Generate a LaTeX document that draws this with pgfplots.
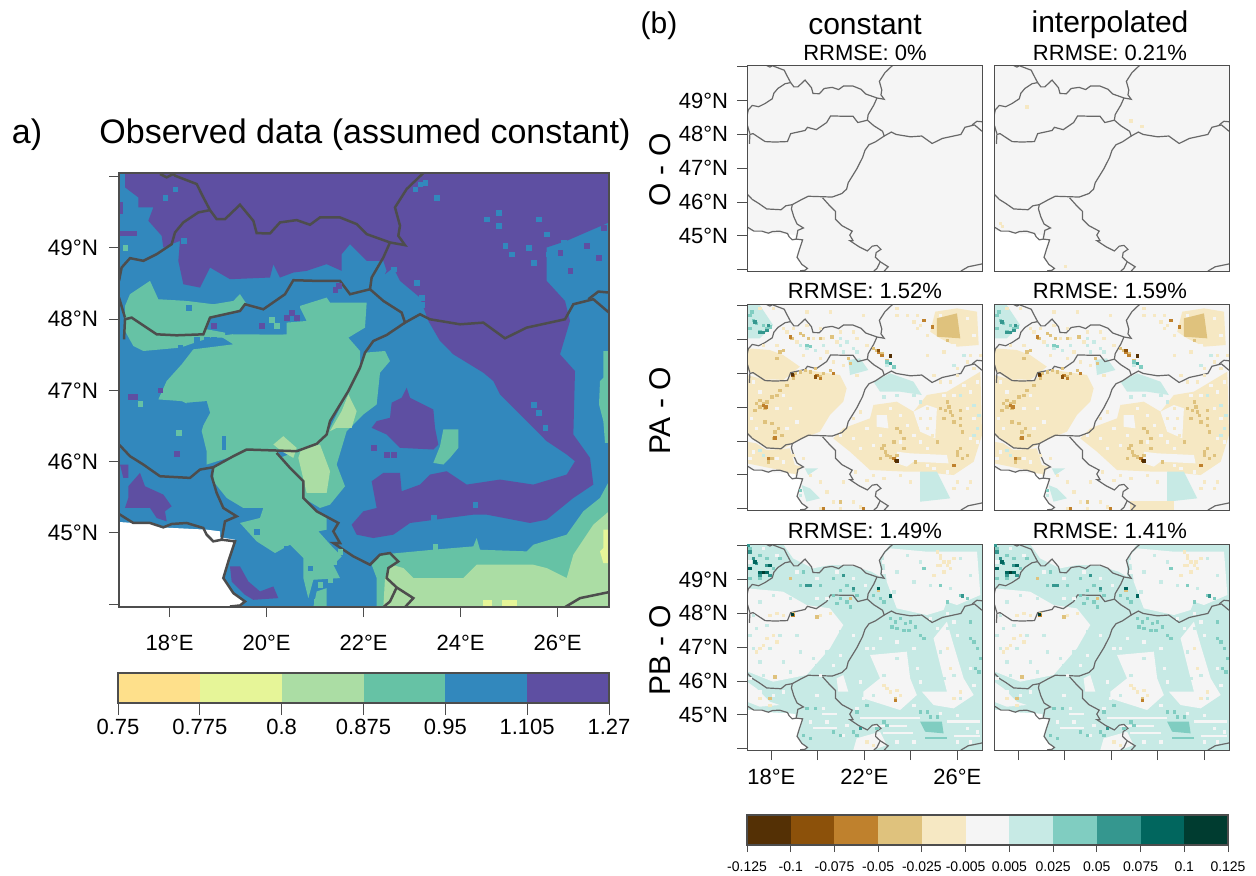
\documentclass[border=0pt]{standalone}
\usepackage{pgfplots}
\pgfplotsset{compat=1.18}
\usepackage{fontspec}
\setmainfont{Liberation Sans}
\definecolor{S1}{HTML}{FEE08B}\definecolor{S2}{HTML}{E6F598}\definecolor{S3}{HTML}{ABDDA4}
\definecolor{S4}{HTML}{66C2A5}\definecolor{S5}{HTML}{3288BD}\definecolor{S6}{HTML}{5E4FA2}
\definecolor{B1}{HTML}{543005}\definecolor{B2}{HTML}{8C510A}\definecolor{B3}{HTML}{BF812D}
\definecolor{B4}{HTML}{DFC27D}\definecolor{B5}{HTML}{F6E8C3}\definecolor{B6}{HTML}{F5F5F5}
\definecolor{B7}{HTML}{C7EAE5}\definecolor{B8}{HTML}{80CDC1}\definecolor{B9}{HTML}{35978F}
\definecolor{B10}{HTML}{01665E}\definecolor{B11}{HTML}{003C30}
\definecolor{frame}{HTML}{4D4D4D}
\newcommand\fs[1]{\fontsize{#1}{#1}\selectfont}
\pgfplotsset{
 zm/.style={x filter/.code={\pgfmathparse{16.955+(##1-57)/145.5}},y filter/.code={\pgfmathparse{50.05-(##1-27)/213.4}}},
 zs/.style={x filter/.code={\pgfmathparse{16.955+(##1-22)/69.58}},y filter/.code={\pgfmathparse{50.05-(##1-27)/101.48}}},
 mapaxis/.style={scale only axis,anchor=south west,axis on top,
  xmin=16.955,xmax=27.058,ymin=43.96,ymax=50.05,
  axis line style={frame,line width=0.6pt},
  tick style={frame,line width=0.5pt},
  tick align=outside,xtick pos=bottom,ytick pos=left,major tick length=5pt,
  ytick={44,45,46,47,48,49,50},
  xtick={18,20,22,24,26},
  xticklabel style={font=\fs{11pt},yshift=-1pt},
  yticklabel style={font=\fs{11pt},xshift=-1pt}},
 small/.style={mapaxis,width=117.5pt,height=103pt,axis line style={frame,line width=0.5pt}},
 nox/.style={xtick=\empty},
 noxl/.style={xticklabels={}},
 noy/.style={ytick=\empty},
 noyl/.style={yticklabels={}},
 ylab/.style={yticklabels={,45°N,46°N,47°N,48°N,49°N,}},
}
% ---- borders, in map-grid units of the large panel
\newcommand\Borders[1]{%
\addplot[#1] coordinates {(180,30)(200,40)(220,30)(225,35)(290,60)(310,100)(330,138)};
\addplot[#1] coordinates {(330,138)(295,145)(250,175)(225,205)(215,240)(170,270)(130,290)(90,282)(65,310)(57,350)};
\addplot[#1] coordinates {(330,138)(350,165)(375,165)(420,122)(460,170)(470,207)(510,208)(540,175)(590,168)(630,182)(660,160)(720,160)(770,180)(800,210)(870,235)(915,243)(895,215)(900,185)(885,130)(920,75)(970,27)};
\addplot[#1] coordinates {(870,235)(850,280)(815,340)(810,375)};
\addplot[#1] coordinates {(810,375)(750,390)(720,350)(650,350)(580,348)(555,390)(490,435)(435,420)(420,440)(330,460)(318,490)(310,510)(230,513)(170,510)(125,480)(95,460)(75,465)(72,525)};
\addplot[#1] coordinates {(57,400)(75,460)};
\addplot[#1] coordinates {(810,375)(850,410)(905,445)(915,475)(960,450)(990,465)(1080,480)(1150,475)(1215,522)(1280,490)(1395,465)(1420,420)(1480,405)(1527,445)};
\addplot[#1] coordinates {(1465,405)(1495,382)(1527,385)};
\addplot[#1] coordinates {(915,475)(860,512)(820,530)(795,565)(780,610)(745,680)(690,770)(680,810)(650,838)(590,860)(530,858)(440,855)(400,875)(340,908)(300,915)(270,940)(180,935)(130,900)(90,875)(57,840)};
\addplot[#1] coordinates {(340,908)(335,935)(350,985)(370,1030)(410,1055)(375,1070)(365,1125)(340,1130)(320,1110)(310,1090)(260,1075)(215,1078)(190,1088)(150,1075)(100,1075)(57,1048)};
\addplot[#1] coordinates {(365,1125)(405,1130)(385,1190)(370,1240)(400,1285)(435,1310)(420,1322)(390,1325)};
\addplot[#1] coordinates {(530,865)(570,910)(610,950)(610,1000)(650,1040)(715,1075)(700,1100)(720,1135)(700,1135)(760,1175)(810,1200)(840,1170)(870,1165)(895,1190)(865,1210)(860,1240)(890,1268)(940,1300)(915,1327)};
\addplot[#1] coordinates {(890,1268)(870,1310)(850,1327)};
\addplot[#1] coordinates {(1395,1327)(1440,1300)(1527,1282)};
}
\newcommand\WhiteSea[1]{\addplot[fill=white,draw=none,#1] coordinates {(57,1072)(100,1075)(150,1075)(180,1088)(320,1095)(360,1100)(360,1118)(405,1125)(385,1190)(370,1240)(400,1285)(435,1310)(420,1327)(57,1327)};}
\newcommand\pzm[2]{\addplot[fill=#1,draw=none,zm] coordinates {#2};}
\newcommand\pzs[2]{\addplot[fill=#1,draw=none,zs] coordinates {#2};}
\newcommand\czm[2]{\addplot[only marks,mark=square*,mark size=1.2pt,mark options={draw=#1,fill=#1,line width=0.1pt},zm] coordinates {#2};}
\newcommand\czs[2]{\addplot[only marks,mark=square*,mark size=0.6pt,mark options={draw=#1,fill=#1,line width=0.1pt},zs] coordinates {#2};}
\newcommand\Bg[1]{\pzs{#1}{(22,27)(725,27)(725,645)(22,645)}}
\newcommand\SmallBorders{\Borders{draw=frame!85,line width=0.6pt,zm}}
% ---- PA - O field, shared by both columns
\newcommand\FieldPA{%
\Bg{B6}
\pzs{B5}{(22,240)(60,250)(130,258)(200,225)(300,240)(320,280)(310,320)(270,360)(240,410)(190,430)(130,460)(80,460)(22,420)}
\pzs{B5}{(25,160)(90,165)(130,180)(180,215)(150,240)(130,255)(60,250)(22,225)}
\pzs{B5}{(22,440)(50,445)(80,465)(150,460)(165,510)(185,515)(165,545)(120,525)(22,505)}
\pzs{B5}{(585,50)(650,40)(710,50)(715,150)(650,155)(600,130)(570,110)}
\pzs{B4}{(590,70)(650,55)(660,130)(590,125)}
\pzs{B5}{(280,430)(310,400)(390,370)(400,330)(470,320)(520,350)(560,300)(620,290)(720,230)(725,420)(700,500)(640,540)(540,530)(500,530)(390,525)(330,470)}
\pzs{B6}{(410,360)(440,360)(445,400)(410,395)}
\pzs{B6}{(470,470)(510,475)(620,480)(625,505)(520,500)(500,515)(470,505)}
\pzs{B6}{(520,350)(560,330)(590,340)(585,430)(540,410)}
\pzs{B7}{(540,530)(590,530)(630,610)(540,620)}
\pzs{B7}{(325,195)(360,190)(385,225)(330,240)}
\pzs{B7}{(400,260)(450,235)(520,260)(545,300)(480,290)(420,290)}
\pzs{B7}{(195,520)(235,520)(205,540)}
\pzs{B7}{(185,570)(210,580)(240,610)(200,620)}
\pzs{B7}{(22,30)(60,30)(100,90)(60,130)(22,130)}
\czs{B6}{(300,420)(340,430)(360,460)(400,450)(420,420)(380,400)(450,340)(480,360)(500,390)(520,420)(540,440)(560,460)(480,440)(610,300)(640,300)(670,270)(690,290)(710,260)(680,340)(700,370)(710,440)(690,430)(580,520)(620,530)(560,510)(60,290)(40,260)(50,400)(35,370)(130,300)(150,340)(110,340)(140,400)(170,380)(40,470)(30,490)(110,490)(130,500)(600,60)(680,70)(700,120)(560,100)(640,150)}
\czs{B5}{(60,40)(100,40)(200,50)(270,50)(370,60)(530,60)(520,80)(540,90)(190,180)(220,130)(300,110)(340,110)(350,130)(380,150)(470,60)(690,180)(680,200)(650,220)(640,210)(530,100)(560,120)(140,110)(170,140)(250,130)(260,170)(470,40)(500,60)(560,180)(610,170)(345,530)(380,555)(240,640)(300,640)(360,635)(340,420)(370,390)(360,350)(340,370)(560,340)(570,370)(560,400)(575,420)(530,400)(540,370)(720,180)(700,220)(580,240)(600,260)(630,260)(650,240)(420,500)(400,540)(430,550)(480,540)(510,560)(650,560)(680,580)(690,560)(640,580)(160,480)(190,490)(210,540)(240,560)(260,590)(280,620)(310,560)(340,620)(30,180)(70,150)(110,150)(130,100)(160,100)(200,90)(240,100)(290,140)(240,190)(280,200)(310,210)(350,240)}
\czs{B7}{(180,150)(225,165)(300,130)(320,140)(340,160)(60,465)(70,480)(30,120)(30,90)(350,210)(300,150)(200,160)(670,180)(640,210)(440,210)(710,400)(700,330)(660,300)(200,590)(220,600)(520,300)(540,320)(470,300)(430,305)(310,170)(350,170)(180,600)(700,420)(715,360)(250,150)}
\czs{B4}{(45,345)(60,335)(70,325)(80,320)(95,305)(110,300)(120,285)(60,315)(75,340)(50,325)(105,410)(115,400)(125,420)(100,430)(75,380)(95,385)(165,235)(180,230)(195,225)(210,230)(225,220)(240,245)(270,225)(250,235)(160,250)(140,270)(130,165)(155,130)(120,170)(110,190)(190,120)(205,130)(95,490)(85,500)(410,165)(425,175)(400,160)(440,195)(325,190)(330,205)(275,125)(430,450)(435,470)(450,485)(470,480)(490,460)(525,500)(600,340)(615,345)(630,350)(610,370)(640,380)(660,390)(650,470)(665,490)(640,510)(650,480)(620,320)(590,440)(470,400)(480,410)(490,430)(460,440)(625,335)(635,360)(660,345)(660,370)(665,410)(425,460)(440,480)(420,490)(660,460)(680,480)(605,110)(620,135)(240,130)(180,115)(300,620)}
\czs{B8}{(40,75)(50,85)(30,60)(60,110)(80,100)(90,95)(200,150)(210,153)(30,100)(440,200)(460,215)(180,585)(36,50)(70,90)}
\czs{B3}{(70,330)(78,335)(160,240)(240,250)(230,240)(415,170)(425,180)(460,490)(470,498)(105,428)(85,490)(150,125)(575,95)(550,75)(640,510)(250,640)(370,640)(280,235)}
\czs{B9}{(70,112)(60,112)(80,105)(45,80)(85,90)(450,205)}
\czs{B2}{(157,240)(465,495)(415,165)(225,245)}
\czs{B1}{(157,238)(450,182)(470,497)}
}
% ---- PB - O field, shared by both columns
\newcommand\FieldPB{%
\Bg{B7}
\pzs{B6}{(130,27)(450,27)(420,70)(420,125)(395,110)(330,90)(270,90)(220,100)(190,85)(160,70)}
\pzs{B6}{(22,160)(130,170)(200,210)(270,220)(310,270)(270,340)(200,420)(100,440)(25,410)(22,240)}
\pzs{B6}{(430,60)(450,40)(560,50)(710,50)(720,180)(650,210)(620,200)(610,225)(560,240)(470,220)(440,140)}
\pzs{B6}{(390,360)(500,350)(510,430)(530,480)(480,525)(370,490)(370,470)(420,430)}
\pzs{B6}{(545,470)(620,470)(600,390)(580,310)(620,260)(640,330)(670,430)(700,480)(640,520)(580,510)}
\pzs{B6}{(290,430)(310,420)(325,470)(295,470)}
\pzs{B6}{(22,440)(50,460)(90,500)(120,510)(60,515)(22,500)}
\pzs{B6}{(245,535)(290,535)(290,541)(245,541)}
\pzs{B6}{(220,575)(290,575)(290,581)(220,581)}
\pzs{B6}{(360,545)(540,545)(540,551)(360,551)}
\pzs{B6}{(620,555)(720,555)(720,563)(620,563)}
\pzs{B6}{(400,570)(500,570)(500,576)(400,576)}
\pzs{B6}{(430,590)(520,590)(520,596)(430,596)}
\pzs{B6}{(640,600)(720,600)(720,606)(640,606)}
\pzs{B8}{(540,560)(605,560)(610,595)(555,590)}
\pzs{B8}{(555,605)(620,605)(620,612)(555,612)}
\pzs{B6}{(350,610)(420,590)(440,630)(400,645)(340,645)}
\czs{B6}{(340,300)(300,360)(280,390)(240,420)(400,340)(380,340)(520,340)(530,400)(540,440)(360,440)(370,490)(520,510)(590,280)(640,260)(650,300)(690,400)(700,450)(650,540)(600,535)(30,430)(60,470)(100,480)(130,470)(230,480)(250,520)(210,560)(260,560)(310,600)(320,570)(350,520)(400,600)(470,620)(520,620)(650,620)(690,620)(710,590)(680,580)(420,310)(470,320)(430,80)(430,110)(620,235)(570,250)(30,80)(70,40)(110,60)(170,110)(230,130)(290,110)(340,130)(375,150)(260,190)(230,190)}
\czs{B7}{(100,180)(60,200)(150,190)(80,270)(120,300)(50,280)(170,300)(90,340)(130,380)(60,380)(180,350)(40,240)(150,410)(220,370)(500,60)(540,80)(470,110)(520,140)(660,70)(690,120)(630,160)(570,150)(460,170)(620,280)(600,350)(640,420)(430,420)(470,370)(300,290)(260,350)(230,390)(510,400)(400,480)(660,490)(610,430)(30,300)(40,340)(70,420)}
\czs{B5}{(100,300)(70,330)(60,340)(90,240)(110,235)(130,240)(240,240)(270,235)(430,450)(450,470)(480,480)(590,50)(600,70)(620,90)(640,70)(610,110)(580,120)(620,340)(630,400)(660,470)(625,80)(590,90)(440,460)(470,465)(640,490)(60,490)(90,510)(380,620)(400,630)(600,90)(610,80)(630,100)(600,60)(110,320)(50,350)(80,310)}
\czs{B8}{(450,250)(465,260)(480,250)(495,265)(510,260)(525,275)(470,280)(490,285)(455,275)(505,285)(540,300)(550,310)(300,190)(320,200)(340,165)(350,180)(330,215)(290,205)(280,180)(300,165)(420,190)(430,200)(400,180)(550,100)(600,150)(620,200)(660,180)(680,190)(690,260)(700,320)(710,340)(720,370)(690,310)(705,400)(715,410)(350,530)(380,510)(430,560)(440,570)(200,520)(225,520)(190,600)(210,610)(280,590)(300,600)(340,590)(350,600)(410,580)(30,40)(60,60)(80,70)(30,130)(60,130)(100,100)(120,70)(180,150)(190,110)(240,150)(280,130)(320,150)(540,530)(560,530)(570,545)(590,545)}
\czs{B9}{(30,50)(40,70)(50,85)(80,90)(200,150)(210,150)(310,120)(340,160)(665,182)(360,580)(25,30)(60,120)(90,120)}
\czs{B4}{(160,235)(230,245)(465,490)(415,165)(105,425)(90,490)(150,130)(330,190)}
\czs{B10}{(60,112)(70,112)(80,112)(45,80)(30,100)(90,90)(450,182)(415,160)}
\czs{B3}{(158,240)(465,495)}
\czs{B11}{(70,112)(157,238)}
}
\newcommand\PanelEnd{\WhiteSea{zm}\SmallBorders}
\begin{document}
\begin{tikzpicture}
\path[use as bounding box] (0,0) rectangle (628pt,-437.5pt);
% ======== a) large map
\begin{axis}[mapaxis,at={(59.5pt,-303.5pt)},width=245pt,height=217pt,ylab,
  xticklabels={18°E,20°E,22°E,24°E,26°E},
  xticklabel style={font=\fs{11pt},yshift=-4.5pt},
  yticklabel style={font=\fs{11.2pt},xshift=-1pt},
  axis line style={frame,line width=0.7pt}]
\pzm{S5}{(57,27)(1527,27)(1527,1327)(57,1327)}
\pzm{S6}{(75,27)(75,70)(115,100)(115,130)(160,130)(145,170)(185,215)(190,250)(240,230)(235,290)(250,360)(300,370)(330,310)(390,345)(510,340)(520,300)(540,340)(580,325)(620,320)(680,300)(725,320)(725,270)(750,240)(800,290)(850,290)(860,320)(855,330)(880,310)(900,350)(960,400)(985,470)(1020,530)(1060,570)(1150,625)(1180,650)(1200,690)(1240,730)(1290,780)(1340,830)(1400,870)(1425,890)(1400,930)(1300,960)(1200,945)(1100,960)(1040,920)(990,930)(960,960)(905,980)(900,925)(850,925)(815,950)(830,1030)(790,1040)(755,1080)(770,1110)(820,1120)(880,1110)(930,1075)(1120,1050)(1160,1050)(1290,1075)(1340,1065)(1420,1000)(1480,960)(1470,880)(1420,810)(1425,620)(1380,570)(1410,470)(1395,410)(1340,350)(1340,250)(1400,230)(1527,175)(1527,27)}
\pzm{S6}{(920,670)(930,700)(1000,735)(1005,790)(1015,840)(1000,855)(900,850)(860,810)(815,790)(830,770)(870,760)(875,715)(905,700)}
\pzm{S6}{(85,965)(120,925)(135,965)(190,990)(215,1025)(195,1040)(200,1070)(170,1060)(150,1030)(75,1030)(85,1000)}
\pzm{S6}{(390,1205)(420,1205)(445,1250)(480,1280)(520,1265)(535,1300)(460,1305)(435,1290)(395,1250)}
\pzm{S6}{(57,200)(110,200)(110,215)(57,215)}
\pzm{S6}{(57,115)(70,115)(70,150)(57,150)}
\pzm{S6}{(60,900)(85,900)(85,940)(70,940)}
\pzm{S4}{(90,390)(120,370)(150,350)(175,405)(260,410)(340,420)(400,410)(420,390)(440,420)(420,440)(330,460)(320,495)(375,505)(375,520)(330,520)(300,530)(240,550)(130,560)(100,545)(75,500)(75,425)}
\pzm{S4}{(600,425)(680,400)(690,415)(800,415)(795,490)(745,520)(780,560)(780,610)(745,680)(690,770)(680,810)(650,838)(590,860)(530,858)(440,855)(400,875)(320,900)(320,860)(305,800)(320,745)(245,710)(175,705)(200,650)(245,600)(280,555)(400,540)(360,515)(430,505)(480,510)(560,510)(560,475)(620,470)(600,430)}
\pzm{S4}{(795,565)(855,560)(870,590)(840,625)(830,720)(790,750)(740,800)(710,900)(735,965)(690,1020)(660,1030)(610,1000)(610,950)(540,880)(590,860)(650,838)(680,810)(700,770)(745,680)(780,610)}
\pzm{S4}{(340,910)(400,875)(440,855)(530,858)(570,910)(610,950)(610,1000)(650,1040)(680,1060)(680,1095)(655,1100)(700,1150)(725,1175)(700,1200)(720,1240)(640,1245)(625,1300)(610,1240)(610,1180)(570,1140)(525,1165)(470,1130)(420,1075)(480,1060)(490,1030)(430,1030)(380,1000)(340,950)}
\pzm{S4}{(650,1280)(680,1270)(680,1327)(640,1327)}
\pzm{S4}{(815,1200)(840,1170)(1000,1155)(1120,1145)(1130,1120)(1140,1155)(1280,1160)(1300,1140)(1400,1110)(1450,1040)(1500,1000)(1527,950)(1527,1327)(830,1327)(830,1240)}
\pzm{S4}{(1510,560)(1527,560)(1527,835)(1515,835)(1510,770)(1497,720)(1500,650)(1510,640)}
\pzm{S4}{(1030,795)(1075,795)(1075,850)(1050,880)(1030,900)(1000,895)(1020,845)}
\pzm{S5}{(260,715)(320,710)(330,745)(300,800)(290,770)(262,770)}
\pzm{S5}{(365,815)(378,815)(378,855)(365,855)}
\pzm{S5}{(440,455)(480,470)(550,470)(550,510)(400,510)(340,490)(340,470)}
\pzm{S3}{(875,1200)(910,1210)(940,1240)(1090,1240)(1130,1200)(1300,1200)(1340,1210)(1400,1240)(1420,1170)(1480,1080)(1527,1040)(1527,1327)(850,1327)(855,1240)}
\pzm{S3}{(745,690)(770,740)(755,790)(710,790)(690,800)(725,740)}
\pzm{S3}{(605,850)(660,840)(690,920)(680,985)(620,985)(595,880)}
\pzm{S3}{(520,840)(550,815)(590,850)(580,880)(545,860)}
\pzm{S2}{(1510,1095)(1527,1095)(1527,1195)(1510,1195)(1500,1160)(1510,1150)}
\pzm{S2}{(1150,1305)(1175,1305)(1175,1327)(1150,1327)}
\pzm{S2}{(1205,1305)(1250,1305)(1250,1327)(1205,1327)}
\czm{S5}{(945,75)(960,60)(975,55)(1010,100)(1160,165)(1195,145)(1195,185)(1315,165)(1340,210)(1510,200)(1215,245)(1235,270)(1285,250)(1300,295)(1345,270)(1390,235)(1455,230)(1490,290)(880,315)(950,355)(965,400)(965,420)(195,100)(225,75)(250,230)(1300,720)(1315,745)(1335,790)(1125,1020)(1000,1060)}
\czm{S6}{(90,697)(105,697)(180,677)(230,868)(340,485)(485,485)(560,460)(575,445)(590,460)(705,375)(715,365)(820,850)(860,870)(880,870)(1510,190)(1380,265)(1410,320)(1460,245)(1495,280)}
\czm{S4}{(75,250)(120,718)(235,805)(340,570)(410,570)(430,548)(515,465)(530,485)(620,1190)(660,1260)(700,1190)(720,1160)(690,1245)(650,1310)(1005,1145)}
\czm{S5}{(265,430)(290,525)(320,525)(340,525)(240,550)(265,400)(470,1100)(560,1150)(630,1210)}
\WhiteSea{zm}
\Borders{draw=frame,line width=1.25pt,zm}
\end{axis}
% ======== colourbar a)
\begin{axis}[scale only axis,anchor=south west,at={(59pt,-351.5pt)},width=245.5pt,height=15pt,
  xmin=0,xmax=6,ymin=0,ymax=1,ytick=\empty,axis on top,
  axis line style={frame,line width=0.6pt},tick style={frame,line width=0.5pt},
  tick align=outside,xtick pos=bottom,major tick length=6pt,
  xtick={0,1,2,3,4,5,6},xticklabels={0.75,0.775,0.8,0.875,0.95,1.105,1.27},
  xticklabel style={font=\fs{11pt},yshift=1.5pt}]
\addplot[fill=S1,draw=none] coordinates {(0,0)(1,0)(1,1)(0,1)};
\addplot[fill=S2,draw=none] coordinates {(1,0)(2,0)(2,1)(1,1)};
\addplot[fill=S3,draw=none] coordinates {(2,0)(3,0)(3,1)(2,1)};
\addplot[fill=S4,draw=none] coordinates {(3,0)(4,0)(4,1)(3,1)};
\addplot[fill=S5,draw=none] coordinates {(4,0)(5,0)(5,1)(4,1)};
\addplot[fill=S6,draw=none] coordinates {(5,0)(6,0)(6,1)(5,1)};
\end{axis}
% ======== row 1
\begin{axis}[small,at={(373.5pt,-135.5pt)},nox,ylab]
\Bg{B6}\PanelEnd
\end{axis}
\begin{axis}[small,at={(497pt,-135.5pt)},nox,noy]
\Bg{B6}
\czs{B5}{(120,152)(431,194)(463,211)(40,501)(46,511)(235,630)}
\PanelEnd
\end{axis}
% ======== row 2
\begin{axis}[small,at={(373.5pt,-255pt)},nox,noyl]
\FieldPA\PanelEnd
\end{axis}
\begin{axis}[small,at={(497pt,-255pt)},nox,noy]
\FieldPA
\pzs{B5}{(430,618)(560,618)(560,645)(430,645)}
\pzs{B5}{(330,430)(400,400)(420,470)(380,500)}
\PanelEnd
\end{axis}
% ======== row 3
\begin{axis}[small,at={(373.5pt,-375pt)},ylab,xticklabels={18°E,,22°E,,26°E}]
\FieldPB\PanelEnd
\end{axis}
\begin{axis}[small,at={(497pt,-375pt)},noy,noxl]
\FieldPB\PanelEnd
\end{axis}
% ======== colourbar b)
\begin{axis}[scale only axis,anchor=south west,at={(373.5pt,-422.5pt)},width=240.5pt,height=15pt,
  xmin=0,xmax=11,ymin=0,ymax=1,ytick=\empty,axis on top,
  axis line style={frame,line width=0.6pt},tick style={frame,line width=0.5pt},
  tick align=outside,xtick pos=bottom,major tick length=3.5pt,
  xtick={0,1,...,11},xticklabels={-0.125,-0.1,-0.075,-0.05,-0.025,-0.005,0.005,0.025,0.05,0.075,0.1,0.125},
  xticklabel style={font=\fs{7pt},yshift=-1.2pt}]
\addplot[fill=B1,draw=none] coordinates {(0,0)(1,0)(1,1)(0,1)};
\addplot[fill=B2,draw=none] coordinates {(1,0)(2,0)(2,1)(1,1)};
\addplot[fill=B3,draw=none] coordinates {(2,0)(3,0)(3,1)(2,1)};
\addplot[fill=B4,draw=none] coordinates {(3,0)(4,0)(4,1)(3,1)};
\addplot[fill=B5,draw=none] coordinates {(4,0)(5,0)(5,1)(4,1)};
\addplot[fill=B6,draw=none] coordinates {(5,0)(6,0)(6,1)(5,1)};
\addplot[fill=B7,draw=none] coordinates {(6,0)(7,0)(7,1)(6,1)};
\addplot[fill=B8,draw=none] coordinates {(7,0)(8,0)(8,1)(7,1)};
\addplot[fill=B9,draw=none] coordinates {(8,0)(9,0)(9,1)(8,1)};
\addplot[fill=B10,draw=none] coordinates {(9,0)(10,0)(10,1)(9,1)};
\addplot[fill=B11,draw=none] coordinates {(10,0)(11,0)(11,1)(10,1)};
\end{axis}
% ======== text
\node[anchor=center,font=\fs{17pt}] at (13.5pt,-67.5pt) {a)};
\node[anchor=west,inner sep=0pt,font=\fs{17pt}] at (49.5pt,-67.5pt) {Observed data (assumed constant)};
\node[anchor=center,font=\fs{15pt}] at (329.5pt,-13pt) {(b)};
\node[anchor=center,font=\fs{15pt}] at (432.5pt,-12.5pt) {constant};
\node[anchor=center,font=\fs{15pt}] at (555pt,-12.5pt) {interpolated};
\foreach \x/\y/\t in {432.5/-26.5/0\%,555/-26.5/0.21\%,432.5/-145.5/1.52\%,555/-145.5/1.59\%,432.5/-265.5/1.49\%,555/-265.5/1.41\%}
  \node[anchor=center,font=\fs{11pt}] at (\x pt,\y pt) {RRMSE: \t};
\node[rotate=90,anchor=center,font=\fs{15pt}] at (330pt,-85pt) {O - O};
\node[rotate=90,anchor=center,font=\fs{15pt}] at (330pt,-205.5pt) {PA - O};
\node[rotate=90,anchor=center,font=\fs{15pt}] at (330pt,-325pt) {PB - O};
\end{tikzpicture}
\end{document}
